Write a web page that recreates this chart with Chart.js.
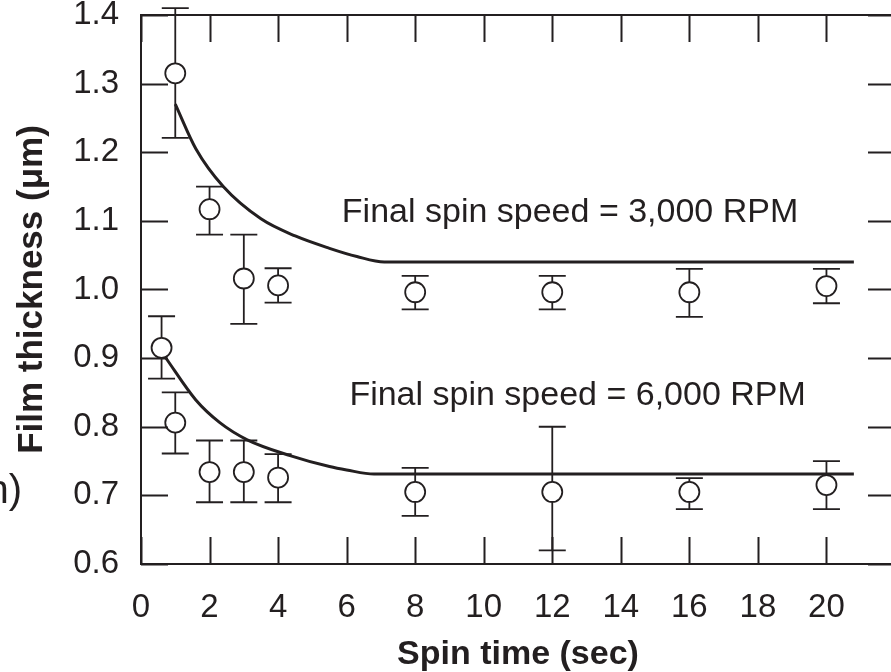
<!DOCTYPE html>
<html>
<head>
<meta charset="utf-8">
<script src="https://cdn.jsdelivr.net/npm/chart.js@4/dist/chart.umd.min.js"></script>
<style>
  html, body { margin: 0; padding: 0; background: #fff; overflow: hidden; }
  #wrap { position: relative; width: 920px; height: 672px; }
</style>
</head>
<body>
<div id="wrap"><canvas id="filmChart"></canvas></div>
<script>
// --- data ---
const INK = '#231f20';
const FONT = '"Liberation Sans", Arial, sans-serif';

// measured points, 3,000 RPM
const time3000 = [1, 2, 3, 4, 8, 12, 16, 20];
const thick3000 = [1.315, 1.117, 1.016, 1.006, 0.996, 0.996, 0.996, 1.005];
const hi3000 = [1.41, 1.15, 1.08, 1.031, 1.02, 1.02, 1.03, 1.03];
const lo3000 = [1.221, 1.08, 0.95, 0.981, 0.971, 0.971, 0.96, 0.98];

// measured points, 6,000 RPM
const time6000 = [0.6, 1, 2, 3, 4, 8, 12, 16, 20];
const thick6000 = [0.915, 0.806, 0.734, 0.734, 0.726, 0.705, 0.705, 0.705, 0.715];
const hi6000 = [0.961, 0.85, 0.78, 0.78, 0.76, 0.74, 0.80, 0.725, 0.75];
const lo6000 = [0.87, 0.761, 0.69, 0.69, 0.69, 0.67, 0.62, 0.68, 0.68];

// fitted curves
const fitTime3000 = [1.0, 1.6, 2.4, 3.5, 4.5, 5.5, 6.3, 7.1, 20.8];
const fitThick3000 = [1.27, 1.205, 1.15, 1.103, 1.078, 1.06, 1.048, 1.04, 1.04];
const fitTime6000 = [0.7, 1.6, 2.3, 3.1, 4.35, 5.5, 6.0, 6.8, 20.8];
const fitThick6000 = [0.902, 0.839, 0.806, 0.781, 0.758, 0.742, 0.737, 0.731, 0.731];

const labelText = ['Final spin speed = 3,000 RPM', 'Final spin speed = 6,000 RPM'];

function pairs(xs, ys) {
    return xs.map((x, i) => ({ x: x, y: ys[i] }));
}

// frame + inward ticks on all four sides
const framePlugin = {
    id: 'frame',
    afterDraw(chart) {
        const { ctx, chartArea: a, scales } = chart;
        const tl = 27;
        ctx.save();
        ctx.strokeStyle = INK;
        ctx.lineWidth = 2;
        ctx.strokeRect(a.left, a.top, a.right - a.left, a.bottom - a.top);
        ctx.beginPath();
        scales.y.ticks.forEach(t => {
            const py = Math.round(scales.y.getPixelForValue(t.value)) + 0.5;
            ctx.moveTo(a.left, py); ctx.lineTo(a.left + tl, py);
            ctx.moveTo(a.right, py); ctx.lineTo(a.right - tl, py);
        });
        scales.x.ticks.forEach(t => {
            const px = Math.round(scales.x.getPixelForValue(t.value)) + 0.5;
            ctx.moveTo(px, a.bottom); ctx.lineTo(px, a.bottom - tl);
            ctx.moveTo(px, a.top); ctx.lineTo(px, a.top + tl);
        });
        ctx.stroke();
        ctx.restore();
    }
};

// error bars with caps, drawn under the circles
const errorBarPlugin = {
    id: 'errbars',
    beforeDatasetsDraw(chart) {
        const { ctx, scales } = chart;
        const sets = [[time3000, hi3000, lo3000], [time6000, hi6000, lo6000]];
        ctx.save();
        ctx.strokeStyle = INK;
        ctx.lineWidth = 1.8;
        ctx.beginPath();
        sets.forEach(([xs, his, los]) => {
            xs.forEach((x, i) => {
                const px = scales.x.getPixelForValue(x);
                const ph = scales.y.getPixelForValue(his[i]);
                const pl = scales.y.getPixelForValue(los[i]);
                ctx.moveTo(px, ph); ctx.lineTo(px, pl);
                ctx.moveTo(px - 13.5, ph); ctx.lineTo(px + 13.5, ph);
                ctx.moveTo(px - 13.5, pl); ctx.lineTo(px + 13.5, pl);
            });
        });
        ctx.stroke();
        ctx.restore();
    }
};

// annotations inside the plot and the stray clipped label at the left edge
const textPlugin = {
    id: 'notes',
    afterDraw(chart) {
        const { ctx, scales } = chart;
        ctx.save();
        ctx.fillStyle = INK;
        ctx.font = '34px ' + FONT;
        ctx.textAlign = 'left';
        ctx.textBaseline = 'alphabetic';
        ctx.fillText(labelText[0], scales.x.getPixelForValue(5.86), scales.y.getPixelForValue(1.099));
        ctx.fillText(labelText[1], scales.x.getPixelForValue(6.08), scales.y.getPixelForValue(0.832));
        ctx.font = '40px ' + FONT;
        ctx.textAlign = 'right';
        ctx.fillText('n)', 22, 503);
        ctx.restore();
    }
};

function initChart() {
    const ctx = document.getElementById('filmChart').getContext('2d');
    new Chart(ctx, {
        type: 'scatter',
        data: {
            datasets: [
                {
                    type: 'line',
                    data: pairs(fitTime3000, fitThick3000),
                    borderColor: INK,
                    borderWidth: 3,
                    pointRadius: 0,
                    fill: false,
                    cubicInterpolationMode: 'monotone'
                },
                {
                    type: 'line',
                    data: pairs(fitTime6000, fitThick6000),
                    borderColor: INK,
                    borderWidth: 3,
                    pointRadius: 0,
                    fill: false,
                    cubicInterpolationMode: 'monotone'
                },
                {
                    data: pairs(time3000, thick3000),
                    pointRadius: 10,
                    pointBackgroundColor: '#fff',
                    pointBorderColor: INK,
                    pointBorderWidth: 1.8
                },
                {
                    data: pairs(time6000, thick6000),
                    pointRadius: 10,
                    pointBackgroundColor: '#fff',
                    pointBorderColor: INK,
                    pointBorderWidth: 1.8
                }
            ]
        },
        options: {
            responsive: true,
            maintainAspectRatio: false,
            animation: false,
            layout: { padding: { left: 0, top: 15, right: 25, bottom: 0 } },
            plugins: { legend: { display: false }, tooltip: { enabled: false } },
            scales: {
                x: {
                    type: 'linear',
                    min: 0, max: 22,
                    grid: { display: false, drawTicks: false },
                    border: { display: false },
                    ticks: {
                        stepSize: 2,
                        padding: 24,
                        color: INK,
                        font: { family: FONT, size: 33 },
                        callback: v => (v <= 20 ? String(v) : '')
                    },
                    title: {
                        display: true,
                        text: 'Spin time (sec)',
                        color: INK,
                        font: { family: FONT, size: 34, weight: 'bold', lineHeight: 1 },
                        padding: { top: 0, bottom: 0 }
                    },
                    afterFit: s => { s.height = 108; s.paddingLeft = 0; s.paddingRight = 0; }
                },
                y: {
                    min: 0.6, max: 1.4,
                    grid: { display: false, drawTicks: false },
                    border: { display: false },
                    ticks: {
                        stepSize: 0.1,
                        padding: 22,
                        color: INK,
                        font: { family: FONT, size: 33 },
                        callback: v => Number(v).toFixed(1)
                    },
                    title: {
                        display: true,
                        text: 'Film thickness (μm)',
                        color: INK,
                        font: { family: FONT, size: 35, weight: 'bold', lineHeight: 1 },
                        padding: { top: 15, bottom: 0 }
                    },
                    afterFit: s => { s.width = 141; s.paddingTop = 0; s.paddingBottom = 0; }
                }
            }
        },
        plugins: [errorBarPlugin, framePlugin, textPlugin]
    });
}

document.addEventListener('DOMContentLoaded', initChart);
</script>
</body>
</html>
